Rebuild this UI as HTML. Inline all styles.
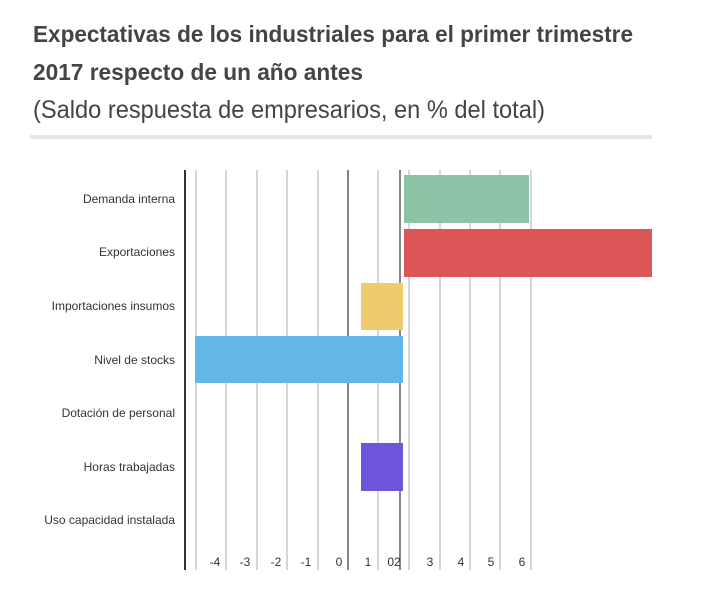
<!DOCTYPE html>
<html><head><meta charset="utf-8"><style>body{margin:0;background:#fff}svg{display:block}</style></head>
<body>
<svg width="713" height="593" xmlns="http://www.w3.org/2000/svg" font-family="Liberation Sans, sans-serif">
<rect width="713" height="593" fill="#fff"/>
<text x="33" y="42" font-size="23" font-weight="bold" fill="#444" textLength="600" lengthAdjust="spacingAndGlyphs">Expectativas de los industriales para el primer trimestre</text>
<text x="33" y="80" font-size="23" font-weight="bold" fill="#444" textLength="330" lengthAdjust="spacingAndGlyphs">2017 respecto de un año antes</text>
<text x="33" y="118" font-size="25" fill="#444" textLength="512" lengthAdjust="spacingAndGlyphs">(Saldo respuesta de empresarios, en % del total)</text>
<rect x="30" y="135" width="622" height="4" fill="#e6e6e6"/>
<g stroke="#c8c8c8" stroke-width="1.5">
<line x1="196" y1="170" x2="196" y2="570"/><line x1="226" y1="170" x2="226" y2="570"/><line x1="257" y1="170" x2="257" y2="570"/><line x1="287" y1="170" x2="287" y2="570"/><line x1="318" y1="170" x2="318" y2="570"/><line x1="378" y1="170" x2="378" y2="570"/><line x1="409" y1="170" x2="409" y2="570"/><line x1="440" y1="170" x2="440" y2="570"/><line x1="470" y1="170" x2="470" y2="570"/><line x1="500" y1="170" x2="500" y2="570"/><line x1="531" y1="170" x2="531" y2="570"/>
</g>
<g stroke="#444" stroke-width="1.3">
<line x1="348" y1="170" x2="348" y2="570"/><line x1="400" y1="170" x2="400" y2="570"/>
</g>
<line x1="185" y1="170" x2="185" y2="570" stroke="#333" stroke-width="2"/>
<rect x="404" y="175" width="125" height="48" fill="#8fc3a8"/>
<rect x="404" y="229" width="248" height="48" fill="#dc5558"/>
<rect x="361" y="283" width="42" height="47" fill="#efcb6e"/>
<rect x="195" y="336" width="208" height="47" fill="#62b7e4"/>
<rect x="361" y="443" width="42" height="48" fill="#6e54da"/>
<g font-size="12" fill="#333" text-anchor="end">
<text x="175" y="203">Demanda interna</text>
<text x="175" y="256">Exportaciones</text>
<text x="175" y="310">Importaciones insumos</text>
<text x="175" y="364">Nivel de stocks</text>
<text x="175" y="417">Dotación de personal</text>
<text x="175" y="471">Horas trabajadas</text>
<text x="175" y="524">Uso capacidad instalada</text>
</g>
<g font-size="12" fill="#333" text-anchor="middle">
<text x="215" y="566">-4</text><text x="245" y="566">-3</text><text x="276" y="566">-2</text><text x="306" y="566">-1</text><text x="339" y="566">0</text><text x="368" y="566">1</text><text x="394" y="566">02</text><text x="430" y="566">3</text><text x="461" y="566">4</text><text x="491" y="566">5</text><text x="522" y="566">6</text>
</g>
</svg>
</body></html>
